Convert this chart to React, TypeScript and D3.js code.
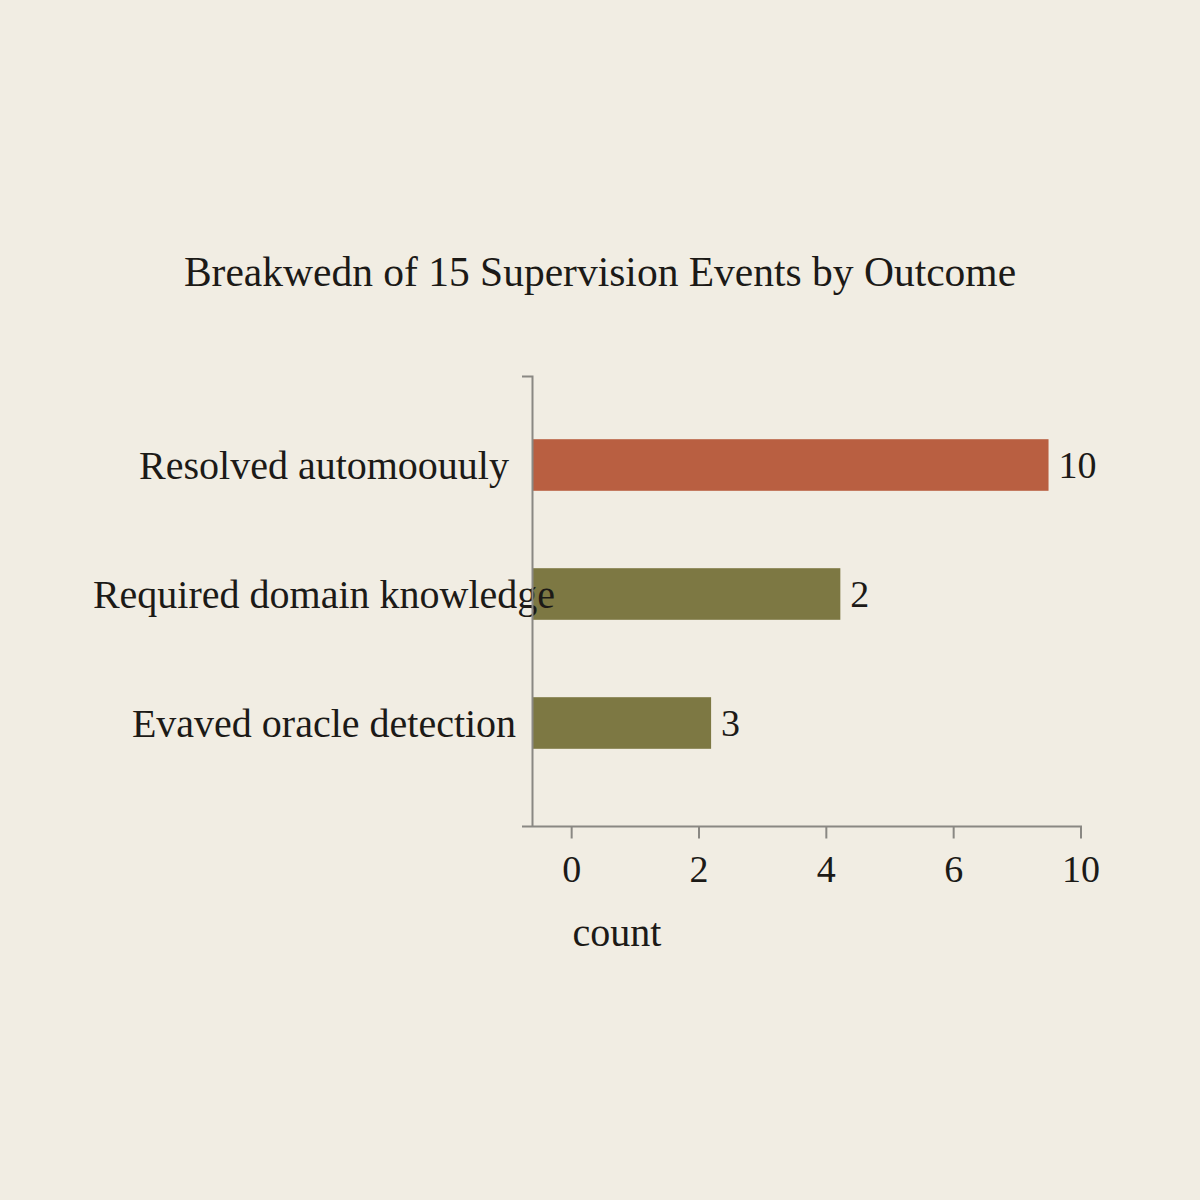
import React, { useEffect, useRef } from 'react';
import * as d3 from 'd3';

// categories as printed in the picture (top to bottom)
const categories = [
  'Resolved automoouuly',
  'Required domain knowledge',
  'Evaved oracle detection',
];
const barValues = [7.49, 4.22, 2.19];
const barLabels = ['10', '2', '3'];
const barColors = ['#b95f41', '#7d7843', '#7d7843'];

const tickValues = [0, 2, 4, 6, 8];
const tickLabels = ['0', '2', '4', '6', '10'];

const title = 'Breakwedn of 15 Supervision Events by Outcome';
const xTitle = 'count';

const W = 1200;
const H = 1200;
const FONT = '"Liberation Serif", "DejaVu Serif", serif';
const INK = '#1c1a17';
const AXIS = '#8a8883';

export default function App() {
  const svgRef = useRef<SVGSVGElement>(null);

  useEffect(() => {
    if (!svgRef.current) return;
    const svg = d3.select(svgRef.current);
    svg.selectAll('*').remove();

    svg.append('rect').attr('width', W).attr('height', H).attr('fill', '#f1ede3');

    const x = d3.scaleLinear().domain([-0.78, 8]).range([522, 1081]);
    const y = d3.scaleBand<string>()
      .domain(categories)
      .range([400.5, 787.5])
      .paddingInner(0.6)
      .paddingOuter(0.3);

    const axisX = 532.5;
    const axisY = 826.5;
    const base = x.invert(axisX);

    // title
    svg.append('text')
      .attr('x', 600)
      .attr('y', 272)
      .attr('text-anchor', 'middle')
      .attr('dominant-baseline', 'central')
      .attr('font-family', FONT)
      .attr('font-size', 41.5)
      .attr('fill', INK)
      .text(title);

    // bars
    svg.selectAll('.bar')
      .data(categories)
      .enter()
      .append('rect')
      .attr('x', axisX)
      .attr('y', (d) => y(d)!)
      .attr('width', (_, i) => x(barValues[i]) - x(base))
      .attr('height', y.bandwidth())
      .attr('fill', (_, i) => barColors[i]);

    // value labels
    svg.selectAll('.val')
      .data(categories)
      .enter()
      .append('text')
      .attr('x', (_, i) => x(barValues[i]) + 10)
      .attr('y', (d) => y(d)! + y.bandwidth() / 2)
      .attr('dominant-baseline', 'central')
      .attr('font-family', FONT)
      .attr('font-size', 38)
      .attr('fill', INK)
      .text((_, i) => barLabels[i]);

    // category labels (centred in the left margin)
    svg.selectAll('.cat')
      .data(categories)
      .enter()
      .append('text')
      .attr('x', 324)
      .attr('y', (d) => y(d)! + y.bandwidth() / 2)
      .attr('text-anchor', 'middle')
      .attr('dominant-baseline', 'central')
      .attr('font-family', FONT)
      .attr('font-size', 40)
      .attr('fill', INK)
      .text((d) => d);

    // left axis line with little outer tick on top
    svg.append('path')
      .attr('d', `M522,376.5H${axisX}V${axisY}`)
      .attr('fill', 'none')
      .attr('stroke', AXIS)
      .attr('stroke-width', 2);

    // bottom axis
    svg.append('path')
      .attr('d', `M522,${axisY}H${x(8)}V${axisY + 12}`)
      .attr('fill', 'none')
      .attr('stroke', AXIS)
      .attr('stroke-width', 2);

    svg.selectAll('.tick')
      .data(tickValues.slice(0, -1))
      .enter()
      .append('line')
      .attr('x1', (d) => x(d))
      .attr('x2', (d) => x(d))
      .attr('y1', axisY)
      .attr('y2', axisY + 12)
      .attr('stroke', AXIS)
      .attr('stroke-width', 2);

    svg.selectAll('.tickLabel')
      .data(tickValues)
      .enter()
      .append('text')
      .attr('x', (d) => x(d))
      .attr('y', 869)
      .attr('text-anchor', 'middle')
      .attr('dominant-baseline', 'central')
      .attr('font-family', FONT)
      .attr('font-size', 38)
      .attr('fill', INK)
      .text((_, i) => tickLabels[i]);

    svg.append('text')
      .attr('x', 617)
      .attr('y', 932)
      .attr('text-anchor', 'middle')
      .attr('dominant-baseline', 'central')
      .attr('font-family', FONT)
      .attr('font-size', 40)
      .attr('fill', INK)
      .text(xTitle);
  }, []);

  return (
    <div style={{ position: 'absolute', left: 0, top: 0, width: W, height: H }}>
      <style>{'body{margin:0}'}</style>
      <svg ref={svgRef} width={W} height={H} style={{ display: 'block' }} />
    </div>
  );
}
